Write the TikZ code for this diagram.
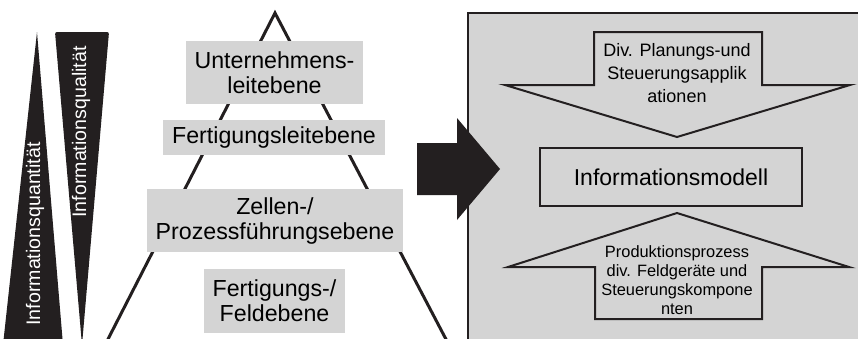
\documentclass[tikz,border=0pt]{standalone}
\usepackage{fontspec}
\setmainfont{Liberation Sans}
\definecolor{boxgray}{RGB}{212,212,212}
\definecolor{ink}{RGB}{35,31,32}
\begin{document}
\begin{tikzpicture}[x=0.5pt,y=-0.5pt,line join=miter,
	ebene/.style={fill=boxgray,inner sep=0pt,align=center,font=\fontsize{11.6}{12.5}\selectfont},
	keil/.style={white,rotate=90,inner sep=0pt,font=\fontsize{9.8}{11}\selectfont},
	pfeil/.style={draw=ink,line width=1pt,fill=boxgray}]
	\useasboundingbox (0,0) rectangle (858,338);
	\clip (0,0) rectangle (858,338);
	% Keile links
	\fill[ink] (3,345)--(37,32)--(63,345)--cycle;
	\fill[ink,rounded corners=1pt] (55,32)--(109,32)--(82,345)--cycle;
	\node[keil] (quant) at (35,234) {Informationsquantität};
	\node[keil] (qual) at (81,132) {Informationsqualität};
	% Pyramide
	\draw[ink,line width=1.5pt] (105,345)--(275,13)--(449,345);
	\node[ebene,minimum width=88.5pt,minimum height=31.5pt] (ue) at (274.5,72.5) {Unternehmens-\\leitebene};
	\node[ebene,minimum width=111pt,minimum height=17.5pt] (fl) at (274,137.5) {Fertigungsleitebene};
	\node[ebene,minimum width=128pt,minimum height=31.5pt] (zp) at (275,220.5) {Zellen-/\\Prozessführungsebene};
	\node[ebene,minimum width=70.5pt,minimum height=32pt] (fe) at (274.5,301) {Fertigungs-/\\Feldebene};
	% Modell rechts
	\draw[ink,line width=1pt,fill=boxgray] (468,13) rectangle (880,360);
	\fill[ink] (417,143)--(457,143)--(457,118)--(500,169)--(457,220)--(457,195)--(417,195)--cycle;
	\draw[pfeil] (594,32)--(762,32)--(762,85)--(850,85)--(677,137)--(505,85)--(594,85)--cycle;
	\draw[pfeil] (595,319)--(762,319)--(762,267)--(849,267)--(677,213)--(508,267)--(595,267)--cycle;
	\node[draw=ink,line width=1pt,minimum width=131pt,minimum height=29pt,inner sep=0pt,
		font=\fontsize{11.5}{13}\selectfont] (im) at (671,177) {Informationsmodell};
	\node[align=center,inner sep=0pt,font=\fontsize{9}{11.5}\selectfont] (plan) at (677,73)
		{Div. Planungs-und\\Steuerungsapplik\\ationen};
	\node[align=center,inner sep=0pt,font=\fontsize{8.2}{9.5}\selectfont] (prod) at (677,280)
		{Produktionsprozess\\div. Feldgeräte und\\Steuerungskompone\\nten};
\end{tikzpicture}
\end{document}
